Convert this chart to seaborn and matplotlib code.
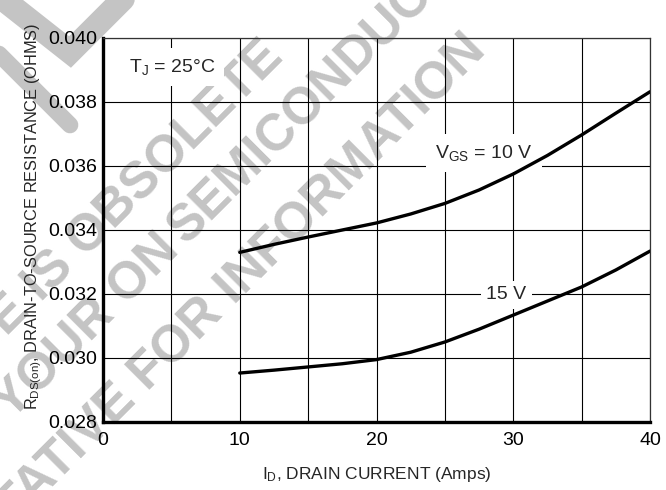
import matplotlib
matplotlib.use("Agg")
import matplotlib.pyplot as plt
from matplotlib.lines import Line2D
import seaborn as sns
import pandas as pd

# Data

drain_current = [10, 12.5, 15, 17.5, 20, 22.5, 25, 27.5, 30, 32.5, 35, 37.5, 40]
rds_10v = [0.03330, 0.03355, 0.03378, 0.03400, 0.03422, 0.03450, 0.03483,
           0.03525, 0.03575, 0.03633, 0.03697, 0.03765, 0.03832]
rds_15v = [0.02953, 0.02962, 0.02972, 0.02982, 0.02995, 0.03018, 0.03050,
           0.03090, 0.03134, 0.03178, 0.03222, 0.03275, 0.03334]

x_ticks = [0, 10, 20, 30, 40]
x_minor = [5, 15, 25, 35]
y_ticks = [0.028, 0.030, 0.032, 0.034, 0.036, 0.038, 0.040]
y_tick_labels = ["0.028", "0.030", "0.032", "0.034", "0.036", "0.038", "0.040"]

df = pd.DataFrame({
    "ID": drain_current * 2,
    "RDS": rds_10v + rds_15v,
    "VGS": ["10 V"] * len(drain_current) + ["15 V"] * len(drain_current),
})

sns.set_style("white")
plt.rcParams["font.family"] = ["Liberation Sans Narrow", "Liberation Sans", "DejaVu Sans"]
plt.rcParams["mathtext.default"] = "regular"

fig = plt.figure(figsize=(6.66, 4.90), dpi=100)
ax = fig.add_axes([0.1547, 0.1388, 0.8213, 0.7837])
ax.patch.set_alpha(0)

# Watermark (behind the axes)
wm = dict(rotation=45, rotation_mode="anchor", va="baseline", color="#c4c4c4",
          fontsize=37, fontweight="bold", family="Liberation Sans", zorder=-5)
fig.text(0.4290, 0.8800, "THIS DEVICE IS OBSOLETE", ha="right", **wm)
fig.text(0.2720, 0.4860, "CONTACT YOUR ON", ha="right", **wm)
fig.text(0.2800, 0.4990, "SEMICONDUCTOR", ha="left", **wm)
fig.text(0.7330, 0.8930, "REPRESENTATIVE FOR INFORMATION", ha="right", **wm)
chev = Line2D([-15 / 666, 70 / 666, 160 / 666], [1 + 15 / 490, 1 - 52 / 490, 1 + 38 / 490],
              transform=fig.transFigure, color="#c4c4c4", lw=17, zorder=-5,
              solid_joinstyle="miter")
fig.add_artist(chev)
band = Line2D([-10 / 666, 70 / 666], [1 - 45 / 490, 1 - 125 / 490],
              transform=fig.transFigure, color="#c4c4c4", lw=12, zorder=-5)
fig.add_artist(band)

sns.lineplot(data=df, x="ID", y="RDS", units="VGS", estimator=None,
             color="black", lw=2.4, ax=ax, zorder=4)

ax.set_xlim(0, 40)
ax.set_ylim(0.028, 0.040)
ax.set_xticks(x_ticks)
ax.set_xticks(x_minor, minor=True)
ax.set_yticks(y_ticks)
ax.set_yticklabels(y_tick_labels)
ax.tick_params(axis="both", length=0, labelsize=14, colors="black")
ax.tick_params(axis="x", pad=7)
ax.tick_params(axis="y", pad=4)
ax.grid(True, which="major", color="black", lw=0.8)
ax.grid(True, which="minor", axis="x", color="black", lw=0.8)
ax.set_axisbelow(True)

for side in ["left", "bottom"]:
    ax.spines[side].set_linewidth(2.4)
    ax.spines[side].set_color("black")
for side in ["top", "right"]:
    ax.spines[side].set_linewidth(0.9)
    ax.spines[side].set_color("#333333")

ax.set_xlabel("I$_D$, DRAIN CURRENT (Amps)", fontsize=12.5)
ax.set_ylabel("R$_{DS(on)}$, DRAIN-TO-SOURCE RESISTANCE (OHMS)", fontsize=11.8)
ax.xaxis.set_label_coords(0.5, -0.113)
ax.yaxis.set_label_coords(-0.108, 0.535)

box = dict(boxstyle="square,pad=0.45", facecolor="white", edgecolor="none")
ax.text(5.05, 0.03909, "T$_J$ = 25°C", fontsize=14, ha="center", va="center",
        bbox=box, zorder=3)
ax.text(27.86, 0.03641, "V$_{GS}$ = 10 V", fontsize=14, ha="center", va="center",
        bbox=box, zorder=3)
ax.text(29.5, 0.03197, "15 V", fontsize=14, ha="center", va="center",
        bbox=dict(boxstyle="square,pad=0.3", facecolor="white", edgecolor="none"),
        zorder=3)

plt.savefig("out.png", dpi=100)
